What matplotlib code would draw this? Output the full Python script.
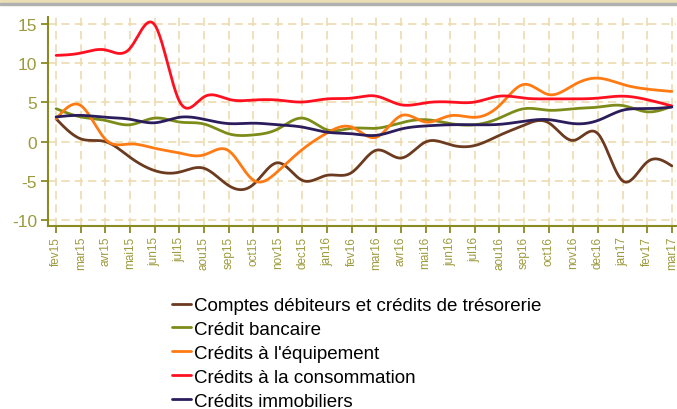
import numpy as np
import matplotlib
matplotlib.use("Agg")
import matplotlib.pyplot as plt
from matplotlib.patches import Rectangle

months = ["fev15", "mar15", "avr15", "mai15", "jun15", "jul15", "aou15", "sep15",
          "oct15", "nov15", "dec15", "jan16", "fev16", "mar16", "avr16", "mai16",
          "jun16", "jul16", "aou16", "sep16", "oct16", "nov16", "dec16", "jan17",
          "fev17", "mar17"]

comptes = [2.9, 0.35, 0.0, -2.0, -3.7, -3.9, -3.4, -5.6, -5.5, -2.7, -4.95, -4.3,
           -3.95, -1.1, -2.1, -0.05, -0.4, -0.5, 0.8, 2.1, 2.4, 0.15, 1.0, -5.0,
           -2.6, -3.1]
bancaire = [4.2, 3.15, 2.7, 2.15, 3.0, 2.5, 2.25, 1.0, 0.85, 1.6, 3.0, 1.5,
            1.7, 1.7, 2.4, 2.8, 2.3, 2.15, 3.0, 4.2, 4.0, 4.2, 4.4, 4.6, 3.8, 4.5]
equipement = [2.9, 4.6, 0.3, -0.3, -0.85, -1.45, -1.7, -1.15, -4.9, -3.8, -1.0, 1.1,
              1.85, 0.55, 3.3, 2.5, 3.3, 3.1, 4.6, 7.3, 6.0, 7.2, 8.1, 7.3, 6.7, 6.4]
consommation = [11.0, 11.3, 11.7, 11.9, 14.9, 5.2, 5.7, 5.4, 5.3, 5.3, 5.05, 5.45,
                5.55, 5.8, 4.7, 4.95, 5.05, 5.05, 5.8, 5.55, 5.45, 5.45, 5.55, 5.8,
                5.35, 4.55]
immobiliers = [3.15, 3.35, 3.1, 2.85, 2.4, 3.1, 2.85, 2.3, 2.35, 2.15, 1.85, 1.2,
               1.0, 0.8, 1.6, 2.0, 2.15, 2.15, 2.2, 2.6, 2.8, 2.3, 2.7, 4.0, 4.2, 4.4]

series = [
    ("Comptes débiteurs et crédits de trésorerie", comptes, "#6b3a1f"),
    ("Crédit bancaire", bancaire, "#7d8c18"),
    ("Crédits à l'équipement", equipement, "#ff7a12"),
    ("Crédits à la consommation", consommation, "#ff1020"),
    ("Crédits immobiliers", immobiliers, "#2b1c5c"),
]


def natural_spline(x, y, xs):
    # plain natural cubic spline, just to draw the smoothed curves
    x = np.asarray(x, float)
    y = np.asarray(y, float)
    n = len(x)
    h = np.diff(x)
    A = np.zeros((n, n))
    b = np.zeros(n)
    A[0, 0] = A[-1, -1] = 1
    for i in range(1, n - 1):
        A[i, i - 1] = h[i - 1]
        A[i, i] = 2 * (h[i - 1] + h[i])
        A[i, i + 1] = h[i]
        b[i] = 3 * ((y[i + 1] - y[i]) / h[i] - (y[i] - y[i - 1]) / h[i - 1])
    c = np.linalg.solve(A, b)
    idx = np.clip(np.searchsorted(x, xs) - 1, 0, n - 2)
    dx = xs - x[idx]
    bb = (y[idx + 1] - y[idx]) / h[idx] - h[idx] * (2 * c[idx] + c[idx + 1]) / 3
    d = (c[idx + 1] - c[idx]) / (3 * h[idx])
    return y[idx] + bb * dx + c[idx] * dx ** 2 + d * dx ** 3


plt.rcParams['font.family'] = ['Liberation Sans', 'DejaVu Sans']

fig = plt.figure(figsize=(6.77, 4.10), dpi=100)
ax = fig.add_axes([48 / 677, 1 - 227 / 410, 628 / 677, 209 / 410])

# window strip at the top
fig.patches.append(Rectangle((0, 1 - 4 / 410), 1, 4 / 410, transform=fig.transFigure,
                             color="#eadfb4", zorder=0))
fig.patches.append(Rectangle((0, 1 - 6 / 410), 1, 2 / 410, transform=fig.transFigure,
                             color="#b0b0b0", zorder=0))

x = np.arange(len(months))
xs = np.linspace(0, len(months) - 1, 600)
lines = []
for label, vals, col in series:
    ln, = ax.plot(xs, natural_spline(x, vals, xs), color=col, lw=2.0,
                  solid_capstyle='round', label=label)
    lines.append(ln)

ax.set_xlim(-0.33, 25.17)
ax.set_ylim(-10.77, 15.9)
ax.set_xticks(x)
ax.set_xticklabels(months, rotation=90, fontsize=8.5, color="#9c9a3c")
ax.set_yticks([-10, -5, 0, 5, 10, 15])
ax.set_yticklabels(["-10", "-5", "0", "5", "10", "15"], fontsize=12.5, color="#9c9a3c")

ax.grid(True, color="#ecdcb0", linestyle=(0, (5, 3)), lw=1.2)
for s in ["top", "right"]:
    ax.spines[s].set_visible(False)
for s in ["left", "bottom"]:
    ax.spines[s].set_color("#8a8a22")
    ax.spines[s].set_linewidth(1.5)
ax.tick_params(axis='both', colors="#8a8a22", width=1.3, length=5)
ax.tick_params(axis='x', labelcolor="#9c9a3c", pad=2)
ax.tick_params(axis='y', labelcolor="#9c9a3c", pad=3)

fig.legend(handles=lines, loc='upper left', bbox_to_anchor=(172 / 677, 1 - 298 / 410),
           frameon=False, fontsize=13.5, handlelength=1.0, handletextpad=0.2,
           labelspacing=0.36, borderpad=0, borderaxespad=0)

fig.savefig("out.png", dpi=100)
